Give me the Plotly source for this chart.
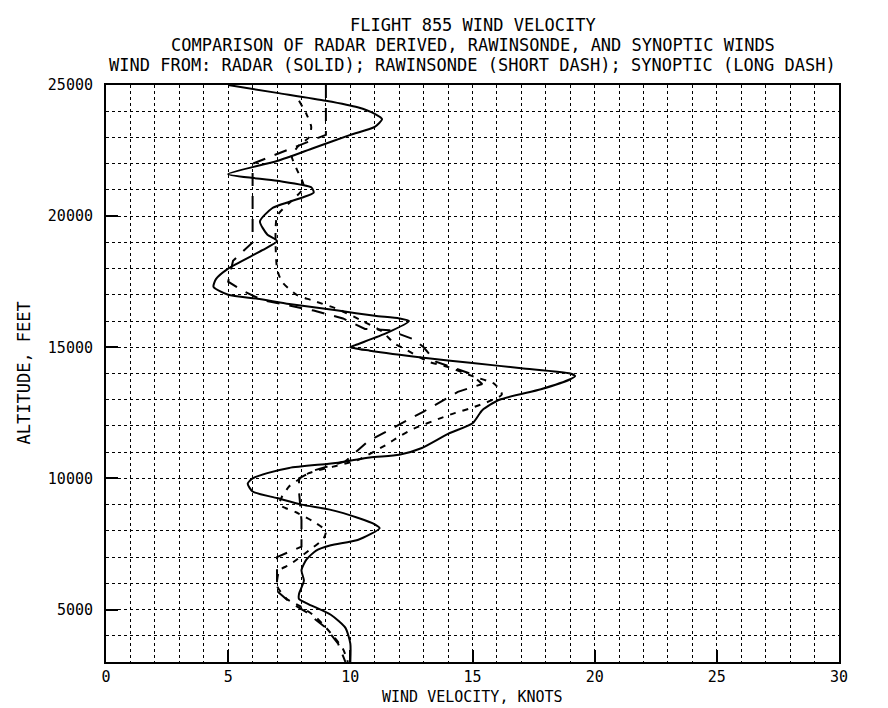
import plotly.graph_objects as go

# wind velocity (knots) vs altitude (ft), top to bottom
radar_kt = [5.0, 7.0, 9.0, 10.3, 11.0, 11.3, 11.0, 10.0, 8.5, 7.0, 5.0, 7.0, 8.4, 8.5, 8.0,
            6.8, 6.3, 6.6, 7.0, 6.4, 5.0, 4.5, 4.4, 5.0, 6.2, 7.5, 9.5, 11.0, 12.0, 12.4,
            11.5, 10.2, 10.0, 10.8, 13.0, 15.0, 17.0, 19.0, 19.2, 19.0, 17.8, 16.1, 15.4, 15.0,
            14.0, 12.9, 12.0, 10.8, 9.5, 7.5, 6.6, 6.0, 5.8, 6.0, 7.0, 8.0, 9.2, 10.3, 11.0,
            11.2, 10.3, 9.2, 8.6, 8.2, 8.0, 8.1, 7.9, 7.9, 8.3, 9.2, 9.8, 10.0, 10.0]
radar_ft = [25000, 24700, 24400, 24150, 23900, 23700, 23400, 23100, 22600, 22100, 21600, 21350, 21100, 20900, 20700,
            20300, 19800, 19300, 19050, 18700, 18000, 17600, 17300, 17000, 16850, 16650, 16400, 16200, 16100, 16000,
            15550, 15080, 15000, 14870, 14600, 14400, 14200, 14000, 13900, 13780, 13400, 13000, 12600, 12100,
            11700, 11150, 10900, 10800, 10600, 10400, 10200, 10000, 9800, 9500, 9250, 9000, 8800, 8500, 8250,
            8100, 7650, 7450, 7250, 6900, 6500, 6100, 5600, 5400, 5200, 4800, 4300, 3700, 3000]

raob_kt = [7.9, 8.2, 8.4, 8.3, 7.9, 7.6, 7.8, 8.1, 7.5, 7.0, 7.0, 7.2, 7.8, 8.4, 9.5, 10.5, 11.3,
           11.8, 12.3, 13.2, 14.0, 15.0, 15.9, 16.2, 15.0, 14.3, 13.7, 12.6, 12.0, 11.5, 10.3,
           9.3, 8.3, 7.8, 7.5, 7.2, 7.1, 7.8, 8.5, 9.0, 8.9, 8.3, 7.5, 7.1, 7.0, 7.4, 8.0,
           8.6, 9.2, 9.7, 9.9]
raob_ft = [24400, 23900, 23400, 23000, 22700, 22300, 21800, 21100, 20500, 20000, 18000, 17500, 17000, 16800, 16450, 16000, 15600,
           15150, 14900, 14450, 14250, 13900, 13600, 13200, 12700, 12500, 12300, 11900, 11600, 11300, 10700,
           10450, 10200, 9900, 9700, 9300, 9000, 8700, 8350, 8000, 7700, 7250, 6700, 6500, 5900, 5400, 5100,
           4700, 4100, 3500, 3000]

syn_kt = [9.0, 9.0, 6.0, 6.0, 5.2, 5.0, 5.6, 6.4, 8.5, 9.7, 10.6, 11.6, 12.6, 13.0, 13.5, 14.9, 15.4,
          14.4, 13.0, 11.8, 10.7, 9.8, 8.5, 7.9, 7.9, 8.0, 8.0, 7.0, 7.0, 7.5, 8.2, 9.0, 9.5, 9.8]
syn_ft = [25000, 23100, 22000, 19000, 18300, 17500, 17150, 16800, 16400, 16100, 15700, 15650, 15300, 15000, 14450, 14000, 13600,
          13300, 12550, 11950, 11400, 10650, 10300, 10000, 9500, 8400, 7400, 7000, 5700, 5300, 4900, 4300, 3700, 3000]

titles = ['FLIGHT 855 WIND VELOCITY',
          'COMPARISON OF RADAR DERIVED, RAWINSONDE, AND SYNOPTIC WINDS',
          'WIND FROM: RADAR (SOLID); RAWINSONDE (SHORT DASH); SYNOPTIC (LONG DASH)']

fig = go.Figure()
fig.add_trace(go.Scatter(x=radar_kt, y=radar_ft, mode='lines', name='RADAR',
                         line=dict(color='black', width=2, shape='spline', smoothing=0.6)))
fig.add_trace(go.Scatter(x=raob_kt, y=raob_ft, mode='lines', name='RAWINSONDE',
                         line=dict(color='black', width=2, dash='6px,7px', shape='spline', smoothing=0.6)))
fig.add_trace(go.Scatter(x=syn_kt, y=syn_ft, mode='lines', name='SYNOPTIC',
                         line=dict(color='black', width=2, dash='13px,10px')))

mono = 'DejaVu Sans Mono'
ann = []
for i, t in enumerate(titles):
    ann.append(dict(text=t, xref='paper', yref='paper', x=0.5, y=1, yshift=60 - 20 * i,
                    showarrow=False, xanchor='center', yanchor='middle',
                    font=dict(family=mono, size=17, color='black')))
ann.append(dict(text='WIND VELOCITY, KNOTS', xref='paper', yref='paper', x=0.5, y=0, yshift=-35,
                showarrow=False, xanchor='center', yanchor='middle',
                font=dict(family=mono, size=15, color='black')))
ann.append(dict(text='ALTITUDE, FEET', xref='paper', yref='paper', x=0, y=0.5, xshift=-83,
                showarrow=False, xanchor='center', yanchor='middle', textangle=-90,
                font=dict(family=mono, size=17, color='black')))

fig.update_layout(
    width=888, height=708,
    margin=dict(l=98, r=57, t=77, b=54),
    plot_bgcolor='white', paper_bgcolor='white',
    showlegend=False,
    annotations=ann,
    font=dict(family=mono, color='black'),
)
axis_style = dict(ticks='inside', ticklen=12, tickwidth=2, tickcolor='black',
                  showline=True, mirror=True, linecolor='black', linewidth=2,
                  showgrid=True, gridcolor='black', griddash='dot', gridwidth=1, zeroline=False,
                  tickfont=dict(family=mono, size=15, color='black'))
fig.update_xaxes(range=[0, 30], dtick=5, tick0=0, ticklabelstandoff=0,
                 minor=dict(dtick=1, showgrid=True, gridcolor='black', griddash='dot', gridwidth=1),
                 **axis_style)
fig.update_yaxes(range=[3000, 25000], dtick=5000, tick0=0, tickformat='d', ticklabelstandoff=8,
                 minor=dict(dtick=1000, showgrid=True, gridcolor='black', griddash='dot', gridwidth=1),
                 **axis_style)

fig.write_html("out.html")
